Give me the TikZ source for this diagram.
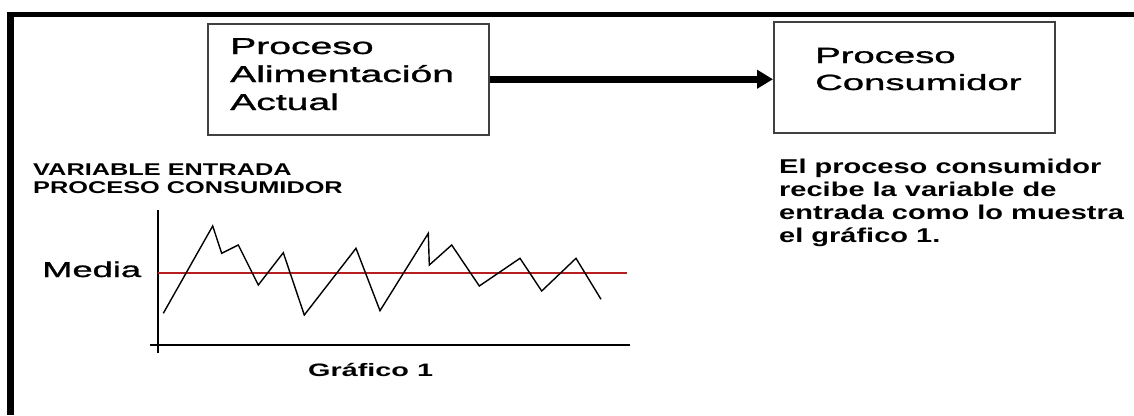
\documentclass[tikz,border=0pt]{standalone}
\usepackage{graphicx}
\usepackage{fontspec}
\setmainfont{Liberation Sans}
\newfontfamily\heavyfont[FakeBold=1]{Liberation Sans}
\usetikzlibrary{arrows.meta}
\definecolor{meanred}{RGB}{185,30,30}
\newcommand{\hstretch}[2]{\scalebox{#1}[1]{#2}}
\begin{document}
\begin{tikzpicture}[x=1pt,y=-1pt,
  procbox/.style={draw=black!75,line width=1.5pt,minimum width=281pt,minimum height=111pt,inner sep=0pt,anchor=north west},
  lbl/.style={anchor=base west,inner sep=0pt},
  axis/.style={draw=black,line width=1.5pt},
  wave/.style={draw=black,line width=1.4pt,line join=miter},
  mean/.style={draw=meanred,line width=2.6pt},
  frame/.style={fill=black,draw=none}]
\useasboundingbox (0,0) rectangle (1134,415);
\fill[white] (0,0) rectangle (1134,415);
% frame
\path[frame] (7,12) rectangle (1134,17);
\path[frame] (7,12) rectangle (14,415);
% boxes
\node[procbox] (alim) at (207,23) {};
\node[procbox] (cons) at (773,21) {};
\draw[line width=7pt,-{Triangle[length=16pt,width=18pt]}] (alim.east) -- (alim.east -| cons.west);
% box texts
\node[lbl] (t1) at (230,54) {\hstretch{1.7}{\fontsize{23}{28}\selectfont\heavyfont Proceso}};
\node[lbl] (t2) at (230,82) {\hstretch{1.7}{\fontsize{23}{28}\selectfont\heavyfont Alimentación}};
\node[lbl] (t3) at (230,110) {\hstretch{1.7}{\fontsize{23}{28}\selectfont\heavyfont Actual}};
\node[lbl] (t4) at (815,63) {\hstretch{1.74}{\fontsize{22}{27}\selectfont\heavyfont Proceso}};
\node[lbl] (t5) at (815,90) {\hstretch{1.74}{\fontsize{22}{27}\selectfont\heavyfont Consumidor}};
% right description
\node[lbl] (d1) at (779,173) {\hstretch{1.45}{\fontsize{20}{23}\selectfont\bfseries El proceso consumidor}};
\node[lbl] (d2) at (779,196) {\hstretch{1.45}{\fontsize{20}{23}\selectfont\bfseries recibe la variable de}};
\node[lbl] (d3) at (779,219) {\hstretch{1.45}{\fontsize{20}{23}\selectfont\bfseries entrada como lo muestra}};
\node[lbl] (d4) at (779,242) {\hstretch{1.45}{\fontsize{20}{23}\selectfont\bfseries el gráfico 1.}};
% left label
\node[lbl] (v1) at (33,175) {\hstretch{1.49}{\fontsize{17}{18}\selectfont\bfseries VARIABLE ENTRADA}};
\node[lbl] (v2) at (33,193) {\hstretch{1.49}{\fontsize{17}{18}\selectfont\bfseries PROCESO CONSUMIDOR}};
\node[lbl] (media) at (42,277) {\hstretch{1.69}{\fontsize{21.5}{24}\selectfont\heavyfont Media}};
\node[lbl] (graf) at (308,376) {\hstretch{1.6}{\fontsize{18}{20}\selectfont\bfseries Gráfico 1}};
% chart
\coordinate (ytop) at (158,210);
\coordinate (ybot) at (158,353);
\coordinate (xl) at (150,345);
\coordinate (xr) at (630,345);
\draw[axis] (ytop) -- (ybot);
\draw[axis] (xl) -- (xr);
\coordinate (m1) at (158,273);
\coordinate (m2) at (627,273);
\draw[mean] (m1) -- (m2);
\draw[wave] (163.3,313.3) -- (212.7,226) -- (221.7,253.3) -- (238.3,245) -- (258.3,285)
  -- (283.3,252.7) -- (304.3,315) -- (356,248.3) -- (380,310.7) -- (428.3,233.3)
  -- (429.3,265) -- (451.7,245) -- (479.3,286) -- (520,258.3) -- (541.7,291)
  -- (576,258.3) -- (601,299.3);
\end{tikzpicture}
\end{document}
